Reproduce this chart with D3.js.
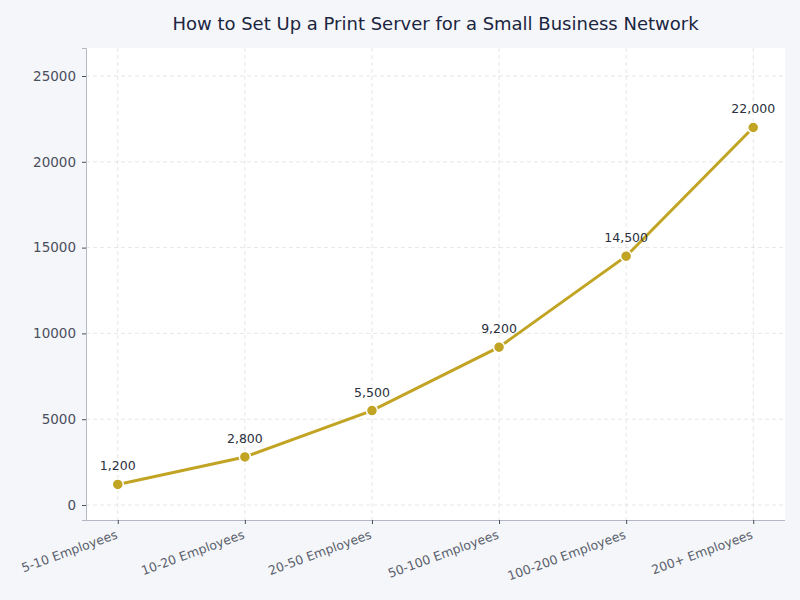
<!DOCTYPE html>
<html>
<head>
<meta charset="utf-8">
<script src="https://cdn.jsdelivr.net/npm/d3@7"></script>
<style>
  body { margin: 0; background: #f5f6fa; }
  text { font-family: "DejaVu Sans", sans-serif; }
  .yax text { font-size: 13.5px; }
</style>
</head>
<body>
<svg id="chart" width="800" height="600"></svg>
<script>
var categories = ["5-10 Employees", "10-20 Employees", "20-50 Employees", "50-100 Employees", "100-200 Employees", "200+ Employees"];
var values = [1200, 2800, 5500, 9200, 14500, 22000];
var yTicks = [0, 5000, 10000, 15000, 20000, 25000];

var margin = { top: 48, right: 15, bottom: 80, left: 86 };
var width = 800, height = 600;
var plotW = width - margin.left - margin.right;
var plotH = height - margin.top - margin.bottom;

var svg = d3.select("#chart");
svg.append("rect").attr("width", width).attr("height", height).attr("fill", "#f5f6fa");

var g = svg.append("g").attr("transform", "translate(" + margin.left + "," + margin.top + ")");
g.append("rect").attr("width", plotW).attr("height", plotH).attr("fill", "#ffffff");

var x = d3.scaleLinear().domain([-0.25, categories.length - 0.75]).range([0, plotW]);
var y = d3.scaleLinear().domain([-874, 26632]).range([plotH, 0]);

// grid
g.selectAll(".hgrid").data(yTicks).enter().append("line")
  .attr("x1", 0).attr("x2", plotW)
  .attr("y1", d => y(d)).attr("y2", d => y(d))
  .attr("stroke", "#e0e0e0").attr("stroke-dasharray", "4,3").attr("stroke-width", 0.8);
g.selectAll(".vgrid").data(categories).enter().append("line")
  .attr("y1", 0).attr("y2", plotH)
  .attr("x1", (d, i) => x(i)).attr("x2", (d, i) => x(i))
  .attr("stroke", "#e0e0e0").attr("stroke-dasharray", "4,3").attr("stroke-width", 0.8);

// axes
var yAxis = g.append("g").attr("class", "yax")
  .call(d3.axisLeft(y).tickValues(yTicks).tickFormat(d3.format("d")).tickSize(4).tickPadding(6))
  .attr("font-family", "DejaVu Sans, sans-serif");
yAxis.select(".domain").attr("stroke", "#b4b7c4");
yAxis.selectAll(".tick line").attr("stroke", "#4a4f5c");
yAxis.selectAll("text").attr("fill", "#4a4f5c");

var xAxis = g.append("g").attr("transform", "translate(0," + plotH + ")")
  .call(d3.axisBottom(x).tickValues(d3.range(categories.length)).tickFormat(i => categories[i]).tickSize(4).tickSizeOuter(0))
  .attr("font-size", 12.5).attr("font-family", "DejaVu Sans, sans-serif");
xAxis.select(".domain").attr("stroke", "#b4b7c4").attr("d", "M0,0.5H" + plotW);
xAxis.selectAll(".tick line").attr("stroke", "#4a4f5c");
xAxis.selectAll("text")
  .attr("fill", "#5a5f6c")
  .attr("text-anchor", "end")
  .attr("dy", "0")
  .attr("transform", "translate(0,18) rotate(-20)")
  .attr("y", 0).attr("x", 0);

// line
var line = d3.line().x((d, i) => x(i)).y(d => y(d));
g.append("path").datum(values)
  .attr("d", line)
  .attr("fill", "none").attr("stroke", "#c2a424").attr("stroke-width", 3);

g.selectAll(".pt").data(values).enter().append("circle")
  .attr("cx", (d, i) => x(i)).attr("cy", d => y(d)).attr("r", 5.5)
  .attr("fill", "#c2a424").attr("stroke", "#ffffff").attr("stroke-width", 1.5);

g.selectAll(".lbl").data(values).enter().append("text")
  .attr("x", (d, i) => x(i)).attr("y", d => y(d) - 14)
  .attr("text-anchor", "middle").attr("fill", "#2b3040").attr("font-size", 12.5)
  .text(d => d3.format(",")(d));

// title
svg.append("text")
  .attr("x", margin.left + plotW / 2).attr("y", 30)
  .attr("text-anchor", "middle").attr("fill", "#1a2540").attr("font-size", 18)
  .text("How to Set Up a Print Server for a Small Business Network");
</script>
</body>
</html>
